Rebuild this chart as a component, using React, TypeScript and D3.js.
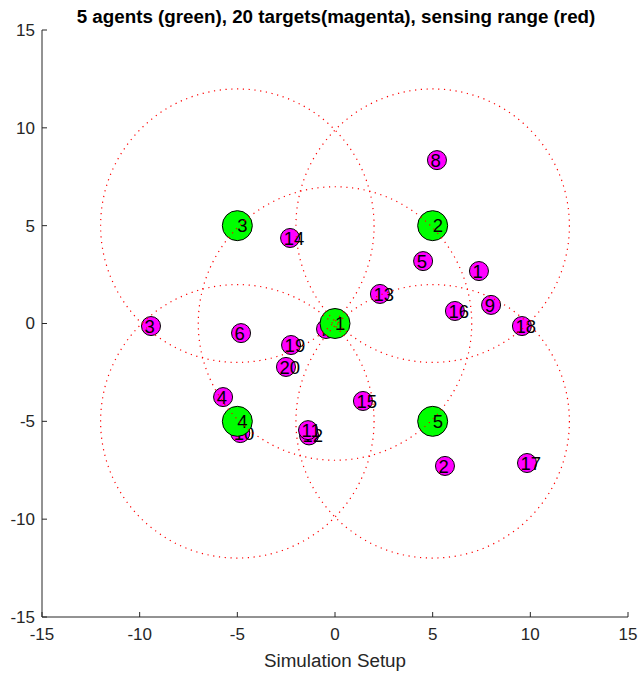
import React from "react";
import * as d3 from "d3";

// Agent positions (x, y)
const agentX = [0, 5, -5, -5, 5];
const agentY = [0, 5, 5, -5, -5];
const sensingRange = 7;

// Target positions (x, y), numbered 1..20
const targetX = [7.37, 5.63, -9.42, -5.73, 4.51, -4.81, -0.46, 5.22, 7.99, -4.85,
  -1.38, -1.33, 2.3, -2.3, 1.43, 6.14, 9.83, 9.57, -2.25, -2.51];
const targetY = [2.68, -7.28, -0.13, -3.76, 3.19, -0.49, -0.28, 8.35, 0.95, -5.6,
  -5.45, -5.72, 1.51, 4.37, -3.96, 0.64, -7.13, -0.13, -1.1, -2.22];

const xTicks = [-15, -10, -5, 0, 5, 10, 15];
const yTicks = [-15, -10, -5, 0, 5, 10, 15];
const titleText = "5 agents (green), 20 targets(magenta), sensing range (red)";
const xLabelText = "Simulation Setup";

const W = 640;
const H = 674;
const left = 42;
const right = 628;
const top = 30;
const bottom = 617;

export default function App() {
  const x = d3.scaleLinear().domain([-15, 15]).range([left, right]);
  const y = d3.scaleLinear().domain([-15, 15]).range([bottom, top]);
  const font = "'Liberation Sans', Arial, Helvetica, sans-serif";
  const axisColor = "#262626";
  const tickLen = 5;
  const rPx = (r: number) => x(r) - x(0);

  // targets are stacked with lower numbers on top
  const targetOrder = d3.range(targetX.length).reverse();

  return (
    <svg
      width={W}
      height={H}
      style={{ position: "absolute", left: 0, top: 0, display: "block", background: "#fff" }}
      fontFamily={font}
    >
      <text x={(left + right) / 2 + 1} y={23} textAnchor="middle" fontSize={18.8} fontWeight="bold" fill="#000">
        {titleText}
      </text>

      {/* axes */}
      <line x1={left} y1={bottom} x2={right} y2={bottom} stroke={axisColor} strokeWidth={1} />
      <line x1={left} y1={top} x2={left} y2={bottom} stroke={axisColor} strokeWidth={1} />
      {xTicks.map((t) => (
        <g key={"xt" + t}>
          <line x1={x(t)} x2={x(t)} y1={bottom} y2={bottom - tickLen} stroke={axisColor} />
          <text x={x(t)} y={640} textAnchor="middle" fontSize={17} fill={axisColor}>
            {t}
          </text>
        </g>
      ))}
      {yTicks.map((t) => (
        <g key={"yt" + t}>
          <line x1={left} x2={left + tickLen} y1={y(t)} y2={y(t)} stroke={axisColor} />
          <text x={35} y={y(t)} dy="0.35em" textAnchor="end" fontSize={17} fill={axisColor}>
            {t}
          </text>
        </g>
      ))}
      <text x={(left + right) / 2} y={667} textAnchor="middle" fontSize={18.8} fill={axisColor}>
        {xLabelText}
      </text>

      {/* targets */}
      {targetOrder.map((i) => (
        <g key={"t" + i}>
          <circle cx={x(targetX[i])} cy={y(targetY[i])} r={9.5} fill="#ff00ff" stroke="#000" strokeWidth={1} />
          <text x={x(targetX[i] - 0.33)} y={y(targetY[i])} dy="0.36em" fontSize={18.5} fill="#000">
            {i + 1}
          </text>
        </g>
      ))}

      {/* agents */}
      {agentX.map((ax, i) => (
        <circle key={"am" + i} cx={x(ax)} cy={y(agentY[i])} r={15} fill="#00ff00" stroke="#000" strokeWidth={1} />
      ))}
      {agentX.map((ax, i) => (
        <text key={"al" + i} x={x(ax)} y={y(agentY[i])} dy="0.36em" fontSize={18.5} fill="#000">
          {i + 1}
        </text>
      ))}

      {/* sensing ranges */}
      {agentX.map((ax, i) => (
        <circle
          key={"sr" + i}
          cx={x(ax)}
          cy={y(agentY[i])}
          r={rPx(sensingRange)}
          fill="none"
          stroke="#ff0000"
          strokeWidth={1.2}
          strokeDasharray="1.2 4.6"
        />
      ))}
    </svg>
  );
}
